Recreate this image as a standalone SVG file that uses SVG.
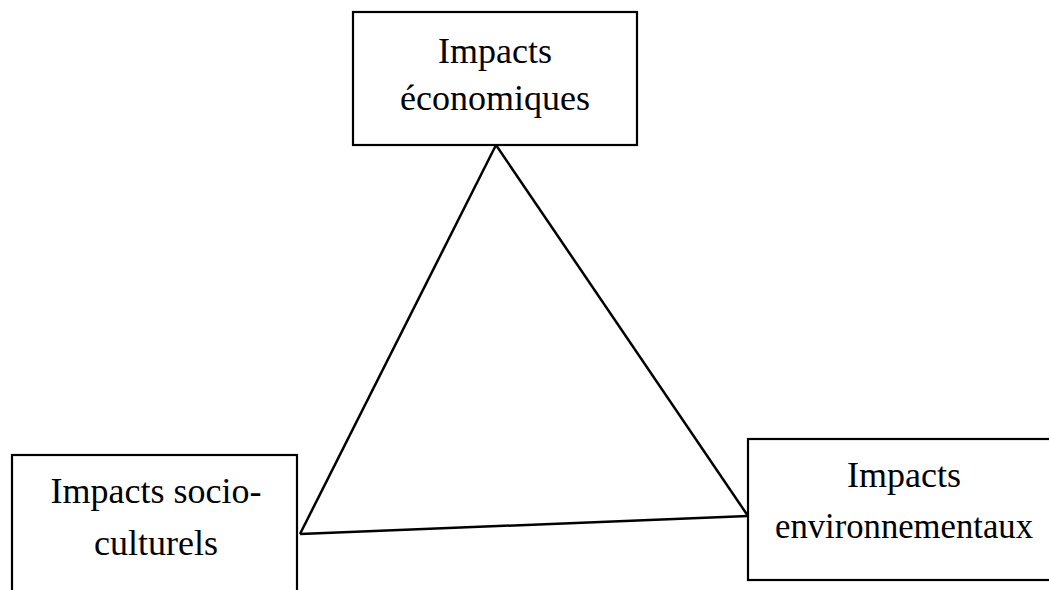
<svg xmlns="http://www.w3.org/2000/svg" width="1049" height="590" viewBox="0 0 1049 590">
<style>
.box{fill:#fff;stroke:#000;stroke-width:2.2}
.lbl{font-family:"Liberation Serif","Times New Roman",serif;font-size:36px;fill:#000;text-anchor:middle}
.edge{fill:none;stroke:#000;stroke-width:2.5}
</style>
<rect width="1049" height="590" fill="#fff"/>
<g id="connectors">
<line class="edge" x1="496" y1="145" x2="300" y2="534"/>
<line class="edge" x1="496" y1="145" x2="748" y2="516"/>
<line class="edge" x1="300" y1="534" x2="748" y2="516"/>
</g>
<g id="node-economiques">
<rect class="box" x="353" y="12" width="284" height="133"/>
<text class="lbl" x="495" y="63">Impacts</text>
<text class="lbl" x="495" y="110">économiques</text>
</g>
<g id="node-socioculturels">
<rect class="box" x="12" y="455" width="285" height="150"/>
<text class="lbl" x="156" y="503">Impacts socio-</text>
<text class="lbl" x="156" y="555">culturels</text>
</g>
<g id="node-environnementaux">
<rect class="box" x="748" y="439" width="320" height="141"/>
<text class="lbl" x="904" y="487">Impacts</text>
<text class="lbl" x="904" y="538" textLength="258" lengthAdjust="spacingAndGlyphs">environnementaux</text>
</g>
</svg>
